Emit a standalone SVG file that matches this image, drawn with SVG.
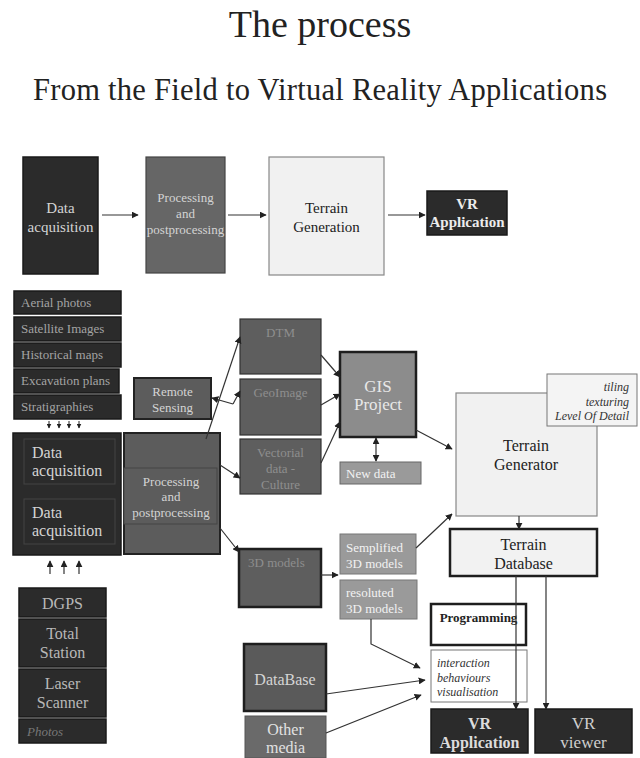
<svg xmlns="http://www.w3.org/2000/svg" width="640" height="758" viewBox="0 0 640 758" font-family="'Liberation Serif','Times New Roman',serif">
<defs>
<marker id="ah" viewBox="0 0 10 10" refX="9" refY="5" markerWidth="7" markerHeight="7" markerUnits="userSpaceOnUse" orient="auto-start-reverse">
<path d="M0,0 L10,5 L0,10 Z" fill="#222"/>
</marker>
<marker id="ahs" viewBox="0 0 10 10" refX="9" refY="5" markerWidth="5" markerHeight="5" markerUnits="userSpaceOnUse" orient="auto">
<path d="M0,0 L10,5 L0,10 Z" fill="#222"/>
</marker>
<style>
text{font-family:"Liberation Serif","Times New Roman",serif;}
.c{text-anchor:middle;}
.dark{fill:#2b2b2b;stroke:#1a1a1a;stroke-width:1.5;}
.mid{fill:#5c5c5c;stroke:#222;stroke-width:2;}
.dim{fill:#5e5e5e;stroke:#333;stroke-width:1.2;}
.light{fill:#9a9a9a;stroke:#777;stroke-width:1;}
.pale{fill:#f1f1f1;stroke:#888;stroke-width:1.2;}
.thick{stroke:#1e1e1e;stroke-width:2.5;}
.tl{fill:#d4d4d4;}
.tg{fill:#a4a4a4;}
.td{fill:#8e8e8e;}
.tw{fill:#f2f2f2;}
.tk{fill:#222;}
.cn{fill:none;stroke:#333;stroke-width:1.2;marker-end:url(#ah);}
.cs{fill:none;stroke:#222;stroke-width:1;marker-end:url(#ahs);}
</style>
</defs>
<rect width="640" height="758" fill="#fff"/>

<g id="title">
<text x="320" y="37" class="c tk" font-size="38">The process</text>
<text x="320" y="100" class="c tk" font-size="30.5" textLength="574" lengthAdjust="spacing">From the Field to Virtual Reality Applications</text>
</g>

<g id="top-data-acquisition">
<rect x="23" y="157" width="75" height="117" class="dark"/>
<text x="60.5" y="213" class="c tl" font-size="15">Data</text>
<text x="60.5" y="232" class="c tl" font-size="15">acquisition</text>
</g>
<g id="top-processing">
<rect x="146" y="157" width="79" height="116" fill="#666" stroke="#444" stroke-width="1.2"/>
<text x="185.5" y="202" class="c tl" font-size="13">Processing</text>
<text x="185.5" y="218" class="c tl" font-size="13">and</text>
<text x="185.5" y="234" class="c tl" font-size="13">postprocessing</text>
</g>
<g id="top-terrain-generation">
<rect x="269" y="157" width="115" height="118" class="pale"/>
<text x="326.5" y="213" class="c tk" font-size="15">Terrain</text>
<text x="326.5" y="232" class="c tk" font-size="15">Generation</text>
</g>
<g id="top-vr-application">
<rect x="427" y="191" width="80" height="44" class="dark"/>
<text x="467" y="209" class="c" fill="#ececec" font-size="15" font-weight="bold">VR</text>
<text x="467" y="227" class="c" fill="#ececec" font-size="15" font-weight="bold">Application</text>
</g>

<g id="aerial-photos">
<rect x="14" y="291" width="107" height="23" class="dark"/>
<text x="21" y="307" class="tg" font-size="13">Aerial photos</text>
</g>
<g id="satellite-images">
<rect x="14" y="317" width="107" height="24" class="dark"/>
<text x="21" y="333" class="tg" font-size="13">Satellite Images</text>
</g>
<g id="historical-maps">
<rect x="14" y="343" width="107" height="24" class="dark"/>
<text x="21" y="359" class="tg" font-size="13">Historical maps</text>
</g>
<g id="excavation-plans">
<rect x="14" y="369" width="105" height="24" class="dark"/>
<text x="21" y="385" class="tg" font-size="13">Excavation plans</text>
</g>
<g id="stratigraphies">
<rect x="14" y="395" width="107" height="24" class="dark"/>
<text x="21" y="411" class="tg" font-size="13">Stratigraphies</text>
</g>

<g id="data-acquisition-block">
<rect x="13" y="433" width="108" height="122" class="dark"/>
<rect x="24" y="439" width="91" height="45" fill="#2b2b2b" stroke="#444" stroke-width="1"/>
<text x="32" y="458" class="tl" font-size="16">Data</text>
<text x="32" y="476" class="tl" font-size="16">acquisition</text>
<rect x="24" y="499" width="91" height="45" fill="#2b2b2b" stroke="#444" stroke-width="1"/>
<text x="32" y="518" class="tl" font-size="16">Data</text>
<text x="32" y="536" class="tl" font-size="16">acquisition</text>
</g>

<g id="remote-sensing">
<rect x="134" y="378" width="77" height="41" class="mid"/>
<text x="172.5" y="396" class="c tl" font-size="13">Remote</text>
<text x="172.5" y="412" class="c tl" font-size="13">Sensing</text>
</g>

<g id="processing-block">
<rect x="124" y="433" width="96" height="121" class="mid"/>
<rect x="124" y="468" width="93" height="56" fill="#5c5c5c" stroke="#444" stroke-width="1"/>
<text x="171" y="486" class="c tl" font-size="13">Processing</text>
<text x="171" y="501" class="c tl" font-size="13">and</text>
<text x="171" y="517" class="c tl" font-size="13">postprocessing</text>
</g>

<g id="dtm">
<rect x="240" y="319" width="81" height="55" class="dim"/>
<text x="280.5" y="337" class="c td" font-size="13">DTM</text>
</g>
<g id="geoimage">
<rect x="240" y="379" width="81" height="56" class="dim"/>
<text x="280.5" y="397" class="c td" font-size="13">GeoImage</text>
</g>
<g id="vectorial">
<rect x="240" y="439" width="81" height="55" class="dim"/>
<text x="280.5" y="457" class="c td" font-size="13">Vectorial</text>
<text x="280.5" y="473" class="c td" font-size="13">data -</text>
<text x="280.5" y="489" class="c td" font-size="13">Culture</text>
</g>

<g id="gis-project">
<rect x="340" y="352" width="76" height="85" fill="#8c8c8c" class="thick"/>
<text x="378" y="392" class="c" fill="#e8e8e8" font-size="17">GIS</text>
<text x="378" y="410" class="c" fill="#e8e8e8" font-size="17">Project</text>
</g>
<g id="new-data">
<rect x="340" y="462" width="81" height="22" fill="#9a9a9a" stroke="#666" stroke-width="1"/>
<text x="346" y="478" class="tw" font-size="13">New data</text>
</g>

<g id="terrain-generator">
<rect x="456" y="393" width="141" height="123" class="pale"/>
<text x="526" y="451" class="c tk" font-size="16">Terrain</text>
<text x="526" y="470" class="c tk" font-size="16">Generator</text>
</g>
<g id="tiling-note">
<rect x="547" y="374" width="90" height="52" fill="#f4f4f4" stroke="#777" stroke-width="1"/>
<text x="629" y="391" text-anchor="end" fill="#333" font-size="12" font-style="italic">tiling</text>
<text x="629" y="406" text-anchor="end" fill="#333" font-size="12" font-style="italic">texturing</text>
<text x="629" y="420" text-anchor="end" fill="#333" font-size="12" font-style="italic">Level Of Detail</text>
</g>
<g id="terrain-database">
<rect x="450" y="529" width="147" height="47" fill="#f2f2f2" class="thick"/>
<text x="523.5" y="550" class="c tk" font-size="16">Terrain</text>
<text x="523.5" y="569" class="c tk" font-size="16">Database</text>
</g>

<g id="3d-models">
<rect x="239" y="549" width="82" height="58" fill="#5e5e5e" class="thick"/>
<text x="248" y="567" class="td" font-size="13">3D models</text>
</g>
<g id="semplified-3d-models">
<rect x="340" y="534" width="76" height="40" class="light"/>
<text x="346" y="552" class="tw" font-size="13">Semplified</text>
<text x="346" y="568" class="tw" font-size="13">3D models</text>
</g>
<g id="resoluted-3d-models">
<rect x="340" y="580" width="77" height="39" class="light"/>
<text x="346" y="597" class="tw" font-size="13">resoluted</text>
<text x="346" y="613" class="tw" font-size="13">3D models</text>
</g>

<g id="programming">
<rect x="431" y="604" width="95" height="41" fill="#fff" class="thick"/>
<text x="478.5" y="622" class="c tk" font-size="13" font-weight="bold">Programming</text>
</g>
<g id="interaction">
<rect x="431" y="650" width="96" height="52" fill="#fff" stroke="#777" stroke-width="1"/>
<text x="437" y="667" fill="#333" font-size="12" font-style="italic">interaction</text>
<text x="437" y="682" fill="#333" font-size="12" font-style="italic">behaviours</text>
<text x="437" y="696" fill="#333" font-size="12" font-style="italic">visualisation</text>
</g>
<g id="vr-application">
<rect x="431" y="709" width="97" height="44" class="dark"/>
<text x="479.5" y="729" class="c" fill="#dcdcdc" font-size="16" font-weight="bold">VR</text>
<text x="479.5" y="748" class="c" fill="#dcdcdc" font-size="16" font-weight="bold">Application</text>
</g>
<g id="vr-viewer">
<rect x="535" y="709" width="97" height="44" class="dark"/>
<text x="583.5" y="729" class="c" fill="#cfcfcf" font-size="17">VR</text>
<text x="583.5" y="748" class="c" fill="#cfcfcf" font-size="17">viewer</text>
</g>

<g id="database">
<rect x="244" y="644" width="82" height="67" fill="#5a5a5a" class="thick"/>
<text x="285" y="685" class="c tl" font-size="16">DataBase</text>
</g>
<g id="other-media">
<rect x="245" y="716" width="81" height="42" fill="#6a6a6a" stroke="#555" stroke-width="1"/>
<text x="285.5" y="735" class="c" fill="#e2e2e2" font-size="16">Other</text>
<text x="285.5" y="753" class="c" fill="#e2e2e2" font-size="16">media</text>
</g>

<g id="dgps">
<rect x="19" y="588" width="87" height="29" class="dark"/>
<text x="62.5" y="609" class="c" fill="#b8b8b8" font-size="16">DGPS</text>
</g>
<g id="total-station">
<rect x="19" y="619" width="87" height="48" class="dark"/>
<text x="62.5" y="639" class="c" fill="#b8b8b8" font-size="16">Total</text>
<text x="62.5" y="658" class="c" fill="#b8b8b8" font-size="16">Station</text>
</g>
<g id="laser-scanner">
<rect x="19" y="669" width="87" height="48" class="dark"/>
<text x="62.5" y="689" class="c" fill="#b8b8b8" font-size="16">Laser</text>
<text x="62.5" y="708" class="c" fill="#b8b8b8" font-size="16">Scanner</text>
</g>
<g id="photos">
<rect x="19" y="719" width="87" height="24" class="dark"/>
<text x="27" y="736" fill="#777" font-size="13" font-style="italic">Photos</text>
</g>

<g id="connectors">
<line x1="102" y1="215" x2="138" y2="215" class="cn"/>
<line x1="228" y1="215" x2="266" y2="215" class="cn"/>
<line x1="388" y1="215" x2="425" y2="215" class="cn"/>
<line x1="49" y1="421" x2="49" y2="428" class="cs"/>
<line x1="59" y1="421" x2="59" y2="428" class="cs"/>
<line x1="69" y1="421" x2="69" y2="428" class="cs"/>
<line x1="79" y1="421" x2="79" y2="428" class="cs"/>
<line x1="206" y1="439" x2="240" y2="337" class="cn"/>
<line x1="233" y1="404" x2="240" y2="391" class="cn"/>
<line x1="233" y1="404" x2="212" y2="398" class="cn"/>
<line x1="220" y1="465" x2="240" y2="478" class="cn"/>
<line x1="220" y1="528" x2="239" y2="552" class="cn"/>
<line x1="321" y1="355" x2="340" y2="377" class="cn"/>
<line x1="321" y1="405" x2="340" y2="394" class="cn"/>
<line x1="321" y1="463" x2="340" y2="422" class="cn"/>
<line x1="416" y1="430" x2="452" y2="449" class="cn"/>
<line x1="376" y1="438" x2="376" y2="461" class="cn" marker-start="url(#ah)"/>
<line x1="519" y1="516" x2="519" y2="529" class="cn"/>
<line x1="416" y1="548" x2="452" y2="514" class="cn"/>
<line x1="321" y1="575" x2="338" y2="575" class="cn"/>
<polyline points="371,619 371,644 420,668" class="cn"/>
<line x1="326" y1="694" x2="425" y2="680" class="cn"/>
<line x1="326" y1="733" x2="421" y2="695" class="cn"/>
<line x1="516" y1="576" x2="516" y2="709" class="cn"/>
<line x1="546" y1="576" x2="546" y2="709" class="cn"/>
<line x1="50" y1="574" x2="50" y2="561" class="cn"/>
<line x1="64" y1="574" x2="64" y2="561" class="cn"/>
<line x1="79" y1="574" x2="79" y2="561" class="cn"/>
</g>
</svg>
